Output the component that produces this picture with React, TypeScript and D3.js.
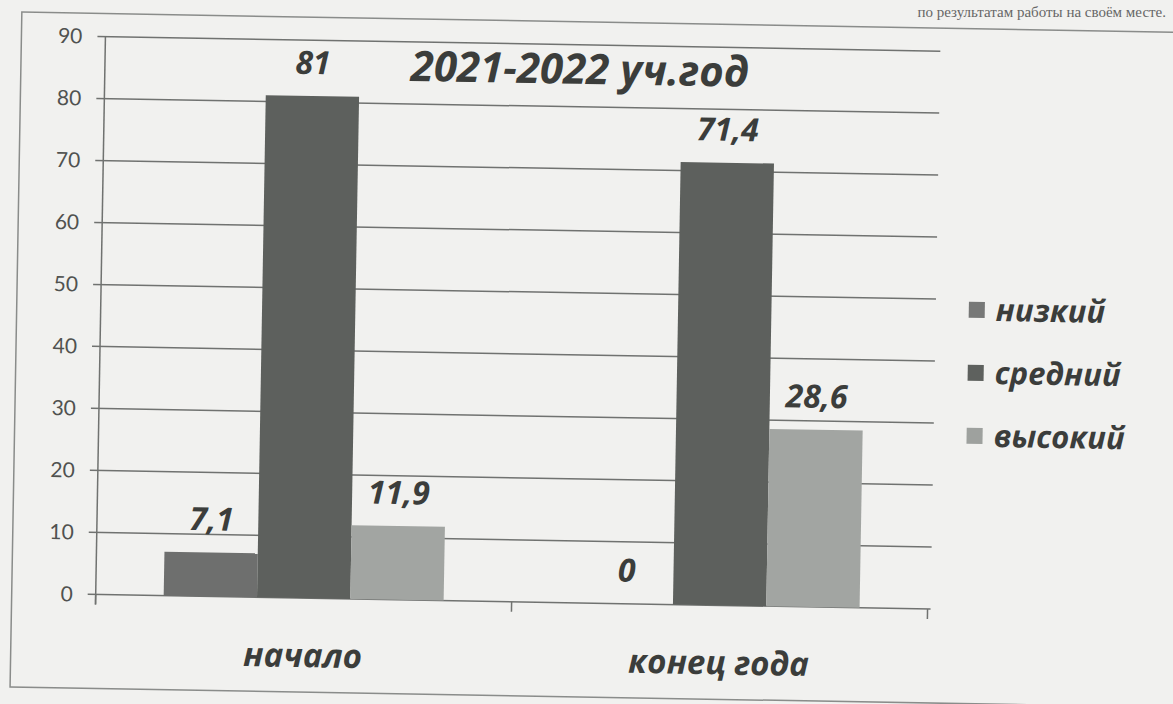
import React from "react";
import * as d3 from "d3";

const categories = ["начало", "конец года"];
const seriesNames = ["низкий", "средний", "высокий"];
const valuesStart = [7.1, 81, 11.9];
const valuesEnd = [0, 71.4, 28.6];
const yTicks = [0, 10, 20, 30, 40, 50, 60, 70, 80, 90];
const title = "2021-2022 уч.год";
const seriesColors = ["#6e6f6e", "#5d605d", "#a2a5a2"];
const legendColors = ["#777877", "#5e615e", "#9ea19e"];

const W = 1173;
const H = 704;
const CYR = "'Open Sans', 'Noto Sans', sans-serif";
const NUM = "Lato, 'Open Sans', sans-serif";

export default function App() {
  const values = [valuesStart, valuesEnd];
  const y = d3.scaleLinear().domain([0, 90]).range([603, 45]);
  const x = d3.scaleBand<string>().domain(categories).range([100, 932]).paddingInner(0).paddingOuter(0);
  const bw = x.bandwidth();
  const inner = d3.scaleBand<string>().domain(seriesNames).range([(bw - 280) / 2, (bw + 280) / 2]);
  const fmt = (v: number) => String(v).replace(".", ",");
  const gridColor = "#707270";
  const textColor = "#3b3d3b";

  return (
    <svg width={W} height={H} style={{ position: "absolute", left: 0, top: 0, display: "block" }}>
      <rect x={0} y={0} width={W} height={H} fill="#f1f1ef" />
      <text x={1166} y={17} textAnchor="end" fontFamily="'Liberation Serif', serif" fontSize={15} fill="#666">
        по результатам работы на своём месте.
      </text>
      <g transform={`rotate(1, ${W / 2}, ${H / 2})`}>
        {/* outer frame */}
        <rect x={16} y={22} width={1200} height={675} fill="none" stroke="#8a8c8a" strokeWidth={1.5} />
        {/* gridlines */}
        {yTicks.map((t) => (
          <line key={t} x1={92} x2={935} y1={y(t)} y2={y(t)} stroke={gridColor} strokeWidth={1.5} />
        ))}
        {/* y tick labels */}
        {yTicks.map((t) => (
          <text key={"l" + t} x={77} y={y(t)} dy="0.35em" textAnchor="end" fontFamily={NUM} fontSize={21} fill="#505250">
            {t}
          </text>
        ))}
        {/* y axis */}
        <line x1={100} x2={100} y1={y(90)} y2={y(0) + 10} stroke={gridColor} strokeWidth={1.5} />
        {/* x axis ticks */}
        {[100, 516, 932].map((px) => (
          <line key={px} x1={px} x2={px} y1={y(0)} y2={y(0) + 10} stroke={gridColor} strokeWidth={1.5} />
        ))}
        {/* bars */}
        {categories.map((c, ci) => (
          <g key={c} transform={`translate(${x(c)},0)`}>
            {seriesNames.map((s, si) => {
              const v = values[ci][si];
              return (
                <rect key={s} x={inner(s)} y={y(v)} width={inner.bandwidth()} height={y(0) - y(v)} fill={seriesColors[si]} />
              );
            })}
            {seriesNames.map((s, si) => {
              const v = values[ci][si];
              return (
                <text key={"t" + s} x={(inner(s) as number) + inner.bandwidth() / 2} y={y(v) - 22} textAnchor="middle"
                  fontFamily={CYR} fontStyle="italic" fontWeight="bold" fontSize={32} fill={textColor}>
                  {fmt(v)}
                </text>
              );
            })}
          </g>
        ))}
        {/* category labels */}
        {categories.map((c) => (
          <text key={"c" + c} x={(x(c) as number) + bw / 2} y={672} textAnchor="middle" fontFamily={CYR}
            fontStyle="italic" fontWeight="bold" fontSize={33} fill={textColor}>
            {c}
          </text>
        ))}
        {/* title */}
        <text x={575} y={84} textAnchor="middle" fontFamily={CYR} fontStyle="italic" fontWeight="bold" fontSize={42} fill={textColor}>
          {title}
        </text>
        {/* legend */}
        {seriesNames.map((s, i) => {
          const cy = 303 + i * 63;
          return (
            <g key={"lg" + s}>
              <rect x={968} y={cy - 8} width={16} height={16} fill={legendColors[i]} />
              <text x={995} y={cy} dy="0.35em" fontFamily={CYR} fontStyle="italic" fontWeight="bold" fontSize={31} fill={textColor}>
                {s}
              </text>
            </g>
          );
        })}
      </g>
    </svg>
  );
}
